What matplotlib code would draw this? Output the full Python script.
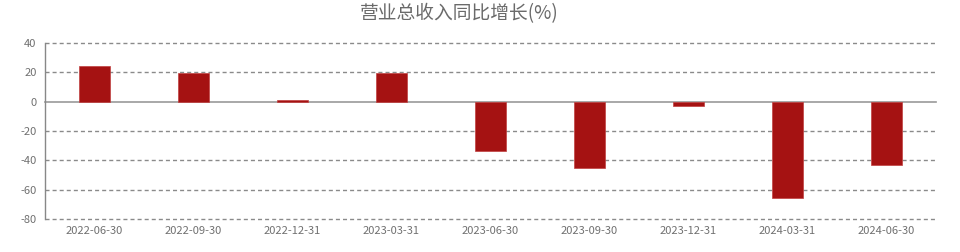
import matplotlib
matplotlib.use("Agg")
import matplotlib.pyplot as plt

plt.rcParams['font.family'] = ['Noto Sans CJK SC', 'DejaVu Sans']

categories = ["2022-06-30", "2022-09-30", "2022-12-31", "2023-03-31", "2023-06-30",
              "2023-09-30", "2023-12-31", "2024-03-31", "2024-06-30"]
values = [24.2, 19.3, 1.1, 19.5, -33.6, -45.0, -2.9, -66.0, -43.4]
yticks = [40, 20, 0, -20, -40, -60, -80]
title = "营业总收入同比增长(%)"

fig = plt.figure(figsize=(9.6, 2.52), dpi=100)
ax = fig.add_axes([45/960, 1-219/252, (936-45)/960, (219-43)/252])

x = list(range(len(categories)))
ax.bar(x, values, width=0.31, color="#A51212", edgecolor="#C04040", linewidth=0.5, zorder=3)

ax.set_ylim(-80, 40)
ax.set_xlim(-0.5, len(categories) - 0.5)
ax.set_yticks(yticks)
ax.set_yticklabels([str(v) for v in yticks])
ax.set_xticks(x)
ax.set_xticklabels(categories)

for v in yticks:
    if v == 0:
        ax.axhline(0, color="#999999", linewidth=1.2, zorder=2, clip_on=False)
    else:
        ax.axhline(v, color="#8a8a8a", linewidth=1.0, linestyle=(0, (2.9, 2.2)),
                   zorder=1, clip_on=False)

for s in ["top", "right", "bottom"]:
    ax.spines[s].set_visible(False)
ax.spines["left"].set_color("#888888")
ax.spines["left"].set_linewidth(1.0)

ax.tick_params(axis="both", length=0, colors="#707070", labelsize=8)
ax.tick_params(axis="y", pad=6)
ax.tick_params(axis="x", pad=5)

fig.text(459/960, 1-14/252, title, ha="center", va="center", fontsize=13.5, color="#6a6a6a")

fig.savefig("out.png", dpi=100)
